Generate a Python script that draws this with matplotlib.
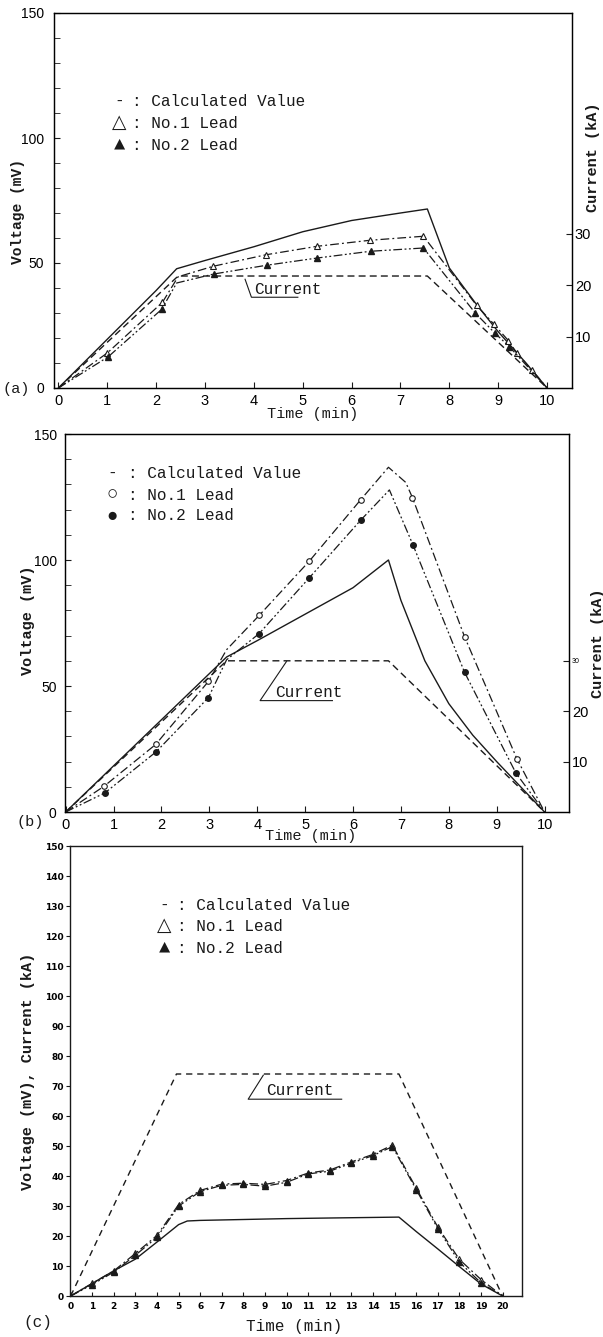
import matplotlib
matplotlib.use("Agg")
import matplotlib.pyplot as plt

plt.rcParams["font.family"] = ["Liberation Mono", "DejaVu Sans"]

# ---- panel (a) ----
time_a_calc = [0, 1, 2, 2.42, 3, 4, 5, 6, 7, 7.55, 8, 8.56, 9, 9.5, 10]
volt_a_calc = [0, 19.5, 39, 47.7, 51, 56.5, 62.5, 67, 70, 71.6, 48, 33.3, 22.5, 11.5, 0]
time_a_cur = [0, 2.45, 7.55, 10]
cur_a = [0, 21.8, 21.8, 0]
time_a_1 = [0, 1.0, 2.13, 2.45, 3.17, 4.25, 5.30, 6.38, 7.47, 8.56, 8.91, 9.21, 9.38, 9.69, 10]
volt_a_1 = [0, 14, 34.3, 44.5, 48.7, 53.3, 56.7, 59.1, 60.7, 33, 25.6, 18.9, 14, 7.3, 0]
mark_a_1 = [1, 2, 4, 5, 6, 7, 8, 9, 10, 11, 12, 13]
time_a_2 = [0, 1.02, 2.11, 2.42, 3.18, 4.26, 5.30, 6.39, 7.47, 8.53, 8.93, 9.23, 10]
volt_a_2 = [0, 12.5, 31.4, 42, 45.6, 49.1, 52, 54.7, 56, 30, 22, 16.5, 0]
mark_a_2 = [1, 2, 4, 5, 6, 7, 8, 9, 10, 11]

# ---- panel (b) ----
time_b_calc = [0, 3.36, 4, 5, 6, 6.74, 7.0, 7.5, 8.0, 8.5, 9.0, 9.5, 10]
volt_b_calc = [0, 61.5, 68, 78.5, 89, 100, 84, 60, 43, 30.5, 20, 10, 0]
time_b_cur = [0, 3.36, 6.74, 10]
cur_b = [0, 30, 30, 0]
time_b_1 = [0, 0.80, 1.88, 2.98, 3.36, 4.04, 5.09, 6.16, 6.74, 7.10, 7.24, 8.33, 9.42, 10]
volt_b_1 = [0, 10.2, 26.8, 51.8, 64.4, 78, 99.6, 123.9, 136.8, 130.8, 124.8, 69.5, 21.2, 0]
mark_b_1 = [1, 2, 3, 5, 6, 7, 10, 11, 12]
time_b_2 = [0, 0.82, 1.89, 2.98, 3.36, 4.04, 5.09, 6.16, 6.76, 7.25, 8.33, 9.40, 10]
volt_b_2 = [0, 7.6, 23.9, 45.4, 60.4, 70.8, 93, 115.8, 127.8, 106.1, 55.4, 15.5, 0]
mark_b_2 = [1, 2, 3, 5, 6, 7, 9, 10, 11]

# ---- panel (c) ----
time_c_calc = [0, 1, 2, 3, 4, 5, 5.4, 6, 8, 10, 12, 15.2, 16, 17, 18, 19, 20]
volt_c_calc = [0, 4.2, 8.4, 12.3, 18, 23.8, 25, 25.2, 25.5, 25.8, 26, 26.3, 21.5, 15.7, 9.8, 4, 0]
time_c_cur = [0, 4.9, 15.2, 20]
cur_c = [0, 74, 74, 0]
time_c_lead = [0, 1, 2, 3, 4, 5, 6, 7, 8, 9, 10, 11, 12, 13, 14, 14.9, 16, 17, 18, 19, 20]
volt_c_1 = [0, 4.2, 8.4, 14.2, 20.2, 30.5, 35.2, 37.3, 37.6, 37.2, 38.5, 41, 42, 44.7, 47.2,
            50.3, 36, 23, 12.2, 5.5, 0]
volt_c_2 = [0, 3.8, 8.0, 13.6, 19.6, 30, 34.8, 36.9, 37.2, 36.6, 37.9, 40.7, 41.6, 44.3, 46.8,
            49.8, 35.5, 22.5, 11.3, 4.4, 0]
mark_c = list(range(1, 20))

W, H = 603, 1337
INK = "#1a1a1a"
SOLID = "-"
DASHED = (0, (5, 3))
DASHDOT = (0, (7, 2.5, 1.5, 2.5))
DASHDOTDOT = (0, (7, 2, 1.5, 2, 1.5, 2))
MONO = ["Liberation Mono", "DejaVu Sans"]
SANS = "Liberation Sans"

fig = plt.figure(figsize=(W / 100, H / 100), dpi=100)


def box(l, t, r, b):
    return fig.add_axes([l / W, 1 - b / H, (r - l) / W, (b - t) / H])


def ftext(x, y, s, **kw):
    kw.setdefault("family", MONO)
    kw.setdefault("color", INK)
    fig.text(x / W, 1 - y / H, s, **kw)


def legend_rows(xsym, xcolon, ys, syms, size=11.5):
    labels = [": Calculated Value", ": No.1 Lead", ": No.2 Lead"]
    for y, s, lab in zip(ys, syms, labels):
        ftext(xsym, y, s, ha="center", va="center", fontsize=size + 2 if s != "-" else size)
        ftext(xcolon, y, lab, ha="left", va="center", fontsize=size)


def callout(ax, p_top, p_bot, x_end, txt_xy):
    ax.plot([p_top[0], p_bot[0], x_end], [p_top[1], p_bot[1], p_bot[1]],
            color=INK, lw=0.8)
    ax.text(txt_xy[0], txt_xy[1], "Current", family=MONO, fontsize=11.5,
            color=INK, va="baseline", ha="left")


def draw_leads(ax, t1, v1, m1, t2, v2, m2, mk_open, mk_fill, ms):
    ax.plot(t1, v1, color=INK, lw=0.9, ls=DASHDOT, marker=mk_open, ms=ms,
            mfc="white", mec=INK, mew=0.8, markevery=m1)
    ax.plot(t2, v2, color=INK, lw=0.9, ls=DASHDOTDOT, marker=mk_fill, ms=ms,
            mfc=INK, mec=INK, markevery=m2)


def style_main(ax, xmax, xmin):
    ax.set_xlim(xmin, xmax)
    ax.set_ylim(0, 150)
    ax.set_xticks(range(0, 11))
    ax.set_yticks([0, 50, 100, 150])
    ax.set_yticks(range(0, 151, 10), minor=True)
    ax.tick_params(axis="both", which="both", direction="in", color=INK)
    ax.tick_params(axis="x", length=4, pad=4, labelsize=10.5)
    ax.tick_params(axis="y", which="minor", length=4)
    ax.tick_params(axis="y", which="major", length=4, labelsize=10)
    for lab in ax.get_xticklabels() + ax.get_yticklabels():
        lab.set_family(SANS)
    for s in ax.spines.values():
        s.set_color(INK)
        s.set_linewidth(1.0)


# =========== (a) ===========
ax_a = box(54, 13, 572, 388)
style_main(ax_a, 10.51, -0.09)
ax_a.tick_params(axis="y", which="major", pad=7)
ax_a.plot(time_a_calc, volt_a_calc, color=INK, lw=1.0, ls=SOLID)
draw_leads(ax_a, time_a_1, volt_a_1, mark_a_1, time_a_2, volt_a_2, mark_a_2, "^", "^", 4)
tw_a = ax_a.twinx()
tw_a.set_ylim(0, 73)
tw_a.plot(time_a_cur, cur_a, color=INK, lw=1.0, ls=DASHED)
tw_a.set_yticks([10, 20, 30])
tw_a.tick_params(axis="y", direction="in", length=4, pad=2, labelsize=10.5, color=INK)
for lab in tw_a.get_yticklabels():
    lab.set_family(SANS)
callout(ax_a, (3.82, 43.5), (3.95, 36.3), 4.9, (4.0, 37.8))

ftext(18, 212, "Voltage (mV)", rotation=90, ha="center", va="center",
      fontsize=10.5, fontweight="bold")
ftext(593, 157, "Current (kA)", rotation=90, ha="center", va="center",
      fontsize=11, fontweight="bold")
ftext(313, 414, "Time (min)", ha="center", va="center", fontsize=11)
ftext(16, 389, "(a)", ha="center", va="center", fontsize=11)
legend_rows(119, 132, [101.7, 123.3, 145], ["-", "\u25b3", "\u25b2"])

# =========== (b) ===========
ax_b = box(65, 434, 569, 812)
style_main(ax_b, 10.51, -0.014)
ax_b.tick_params(axis="y", which="major", pad=6)
ax_b.plot(time_b_calc, volt_b_calc, color=INK, lw=1.0, ls=SOLID)
draw_leads(ax_b, time_b_1, volt_b_1, mark_b_1, time_b_2, volt_b_2, mark_b_2, "o", "o", 4)
tw_b = ax_b.twinx()
tw_b.set_ylim(0, 75)
tw_b.plot(time_b_cur, cur_b, color=INK, lw=1.0, ls=DASHED)
tw_b.set_yticks([10, 20, 30])
tw_b.tick_params(axis="y", direction="in", length=4, pad=2, labelsize=10.5, color=INK)
for lab in tw_b.get_yticklabels():
    lab.set_family(SANS)
tw_b.get_yticklabels()[2].set_fontsize(5)
callout(ax_b, (4.61, 59.7), (4.06, 44.2), 5.57, (4.37, 45.6))

ftext(28, 620, "Voltage (mV)", rotation=90, ha="center", va="center",
      fontsize=11, fontweight="bold")
ftext(598, 643, "Current (kA)", rotation=90, ha="center", va="center",
      fontsize=11, fontweight="bold")
ftext(311, 836, "Time (min)", ha="center", va="center", fontsize=11)
ftext(30, 822, "(b)", ha="center", va="center", fontsize=11)
legend_rows(112, 128, [473.3, 495, 516], ["-", "\u25cb", "\u25cf"])

# =========== (c) ===========
ax_c = box(70, 846, 522, 1296)
ax_c.set_xlim(-0.03, 20.9)
ax_c.set_ylim(0, 150)
ax_c.plot(time_c_calc, volt_c_calc, color=INK, lw=1.0, ls=SOLID)
ax_c.plot(time_c_cur, cur_c, color=INK, lw=1.0, ls=(0, (4.5, 3.5)))
draw_leads(ax_c, time_c_lead, volt_c_1, mark_c, time_c_lead, volt_c_2, mark_c, "^", "^", 4.5)
ax_c.set_xticks(range(0, 21))
ax_c.set_yticks(range(0, 151, 10))
ax_c.tick_params(axis="x", direction="in", length=3, pad=4, labelsize=6.5, color=INK)
ax_c.tick_params(axis="y", direction="out", length=3, pad=1.5, labelsize=6.5, color=INK)
for lab in ax_c.get_xticklabels() + ax_c.get_yticklabels():
    lab.set_family("DejaVu Sans")
    lab.set_fontweight("bold")
for s in ax_c.spines.values():
    s.set_color(INK)
    s.set_linewidth(1.0)
callout(ax_c, (8.92, 73.6), (8.22, 65.6), 12.55, (9.07, 66.9))

ftext(28, 1071, "Voltage (mV), Current (kA)", rotation=90, ha="center", va="center",
      fontsize=11, fontweight="bold")
ftext(294, 1327, "Time (min)", ha="center", va="center", fontsize=11.5)
ftext(38, 1322, "(c)", ha="center", va="center", fontsize=11.5)
legend_rows(164, 177, [905.7, 926.7, 948.3], ["-", "\u25b3", "\u25b2"])

fig.savefig("out.png", dpi=100, facecolor="white")
